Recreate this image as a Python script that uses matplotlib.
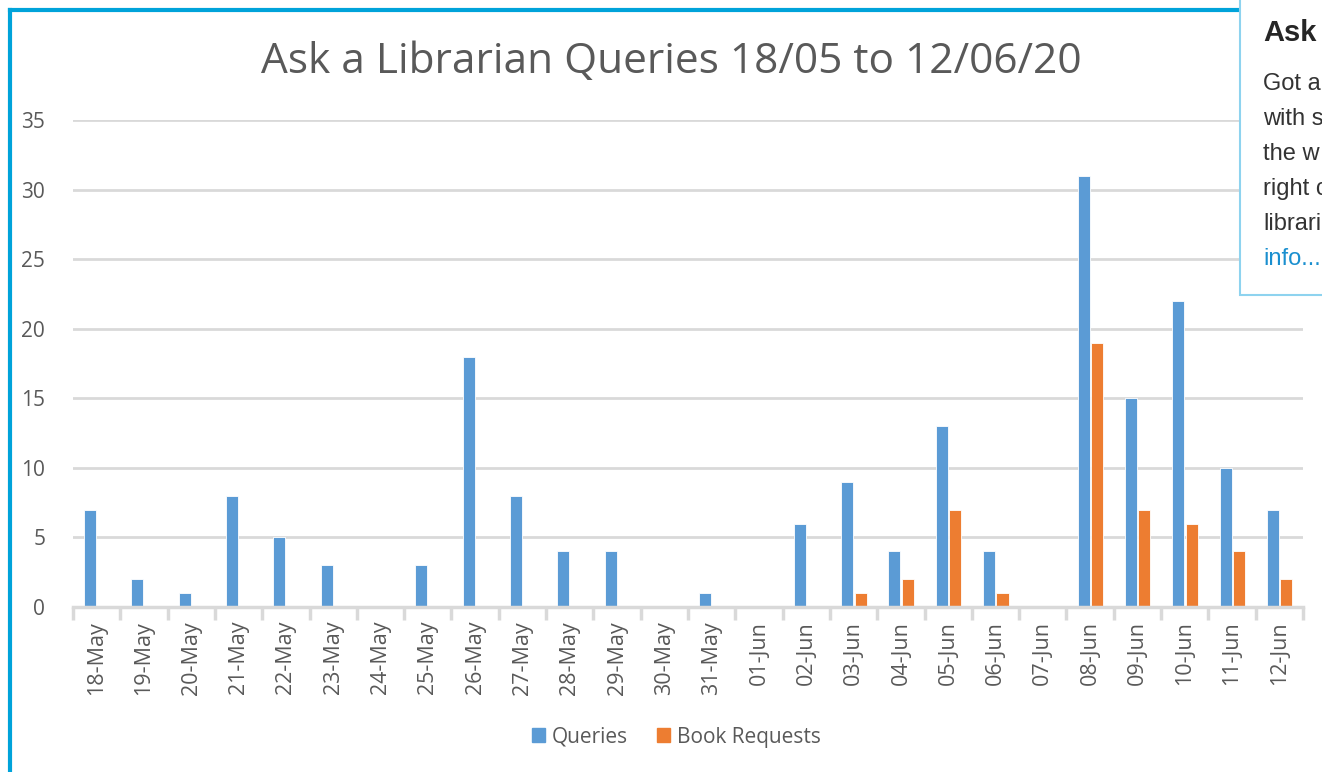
import matplotlib.pyplot as plt
import matplotlib.patches as mpatches
import numpy as np

dates = ["18-May", "19-May", "20-May", "21-May", "22-May", "23-May", "24-May",
         "25-May", "26-May", "27-May", "28-May", "29-May", "30-May", "31-May",
         "01-Jun", "02-Jun", "03-Jun", "04-Jun", "05-Jun", "06-Jun", "07-Jun",
         "08-Jun", "09-Jun", "10-Jun", "11-Jun", "12-Jun"]
queries = [7, 2, 1, 8, 5, 3, 0, 3, 18, 8, 4, 4, 0, 1, 0, 6, 9, 4, 13, 4, 0, 31, 15, 22, 10, 7]
book_requests = [0, 0, 0, 0, 0, 0, 0, 0, 0, 0, 0, 0, 0, 0, 0, 0, 1, 2, 7, 1, 0, 19, 7, 6, 4, 2]

blue = "#5b9bd5"
orange = "#ed7d31"
txt = "#595959"
grid = "#d9d9d9"

fig = plt.figure(figsize=(13.22, 7.72), dpi=100)
W, H = 1322, 772
# plot area in pixels: x 73..1303, y 120..607
ax = fig.add_axes([73 / W, 1 - 607 / H, 1230 / W, 487 / H])

x = np.arange(len(dates))
bw = 0.255
ax.bar(x - bw / 2 - 0.01, queries, bw, color=blue, label="Queries",
       edgecolor="white", linewidth=0.6)
ax.bar(x + bw / 2 + 0.02, book_requests, bw, color=orange, label="Book Requests",
       edgecolor="white", linewidth=0.6)

ax.set_xlim(-0.5, len(dates) - 0.5)
ax.set_ylim(0, 35)
ax.set_yticks(range(0, 36, 5))
ax.yaxis.grid(True, color=grid, linewidth=2)
ax.set_axisbelow(True)
for s in ["top", "right", "left"]:
    ax.spines[s].set_visible(False)
ax.spines["bottom"].set_color(grid)
ax.spines["bottom"].set_linewidth(2.5)

ax.set_xticks(x)
ax.set_xticklabels(dates, rotation=90, fontsize=15.5, color=txt, family="Open Sans")
ax.tick_params(axis="x", length=0, pad=10)
ax.set_xticks(np.arange(-0.5, len(dates), 1), minor=True)
ax.tick_params(axis="x", which="minor", length=9, width=2.5, color=grid)
ax.tick_params(axis="y", length=0, labelsize=15, labelcolor=txt, pad=20)
for lab in ax.get_yticklabels():
    lab.set_family("Open Sans")

fig.text(671 / W, 1 - 62 / H, "Ask a Librarian Queries 18/05 to 12/06/20",
         ha="center", va="center", fontsize=30.5, color=txt, family="Open Sans")

handles = [mpatches.Patch(color=blue, label="Queries"),
           mpatches.Patch(color=orange, label="Book Requests")]
fig.legend(handles=handles, loc="center", bbox_to_anchor=(676 / W, 1 - 737 / H),
           ncol=2, frameon=False, handlelength=0.65, handleheight=0.65,
           handletextpad=0.3, columnspacing=1.4, labelcolor=txt,
           prop={"family": "Open Sans", "size": 15})

# outer frame (left and top edges)
fig.add_artist(plt.Line2D([9.5 / W, 9.5 / W], [0, 1 - 10 / H], color="#00a3da", linewidth=3))
fig.add_artist(plt.Line2D([9.5 / W, 1240 / W], [1 - 10 / H, 1 - 10 / H], color="#00a3da", linewidth=3))

# popup box over the top right corner
fig.add_artist(mpatches.Rectangle((1240 / W, 1 - 295 / H), 100 / W, 300 / H,
                                  facecolor="white", edgecolor="#8ed3ef", linewidth=1.5,
                                  transform=fig.transFigure, zorder=5))
fig.text(1263 / W, 1 - 33 / H, "Ask", fontsize=21, fontweight="bold", color="#262626",
         family="Liberation Sans", va="center", zorder=6)
popup_lines = ["Got a", "with s", "the w", "right c", "librari"]
for i, line in enumerate(popup_lines):
    fig.text(1263 / W, 1 - (84 + 35 * i) / H, line, fontsize=17, color="#333333",
             family="Liberation Sans", va="center", zorder=6)
fig.text(1263 / W, 1 - 259 / H, "info...", fontsize=17, color="#1a8fcf",
         family="Liberation Sans", va="center", zorder=6)

fig.savefig("out.png", dpi=100)
